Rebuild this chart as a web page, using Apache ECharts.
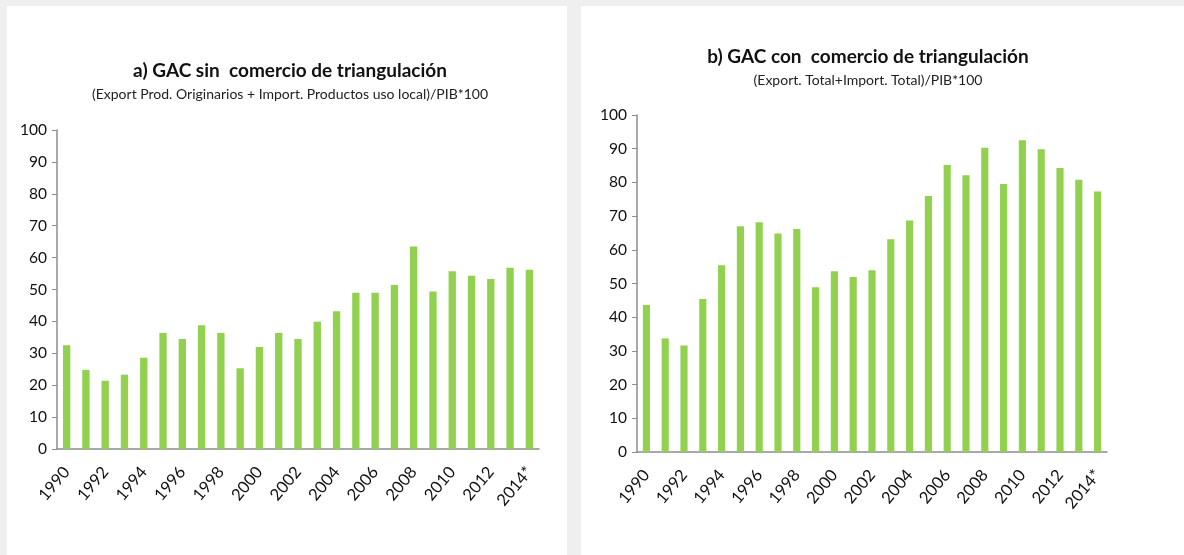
<!DOCTYPE html>
<html>
<head>
<meta charset="utf-8">
<script src="https://cdn.jsdelivr.net/npm/echarts@6/dist/echarts.min.js"></script>
<style>
  html, body { margin: 0; padding: 0; background: #efefef; width: 1184px; height: 555px; overflow: hidden; }
  .panel { position: absolute; background: #ffffff; }
  #chart_a { left: 7px; top: 6px; width: 560px; height: 549px; }
  #chart_b { left: 581px; top: 6px; width: 603px; height: 549px; }
</style>
</head>
<body>
<div id="chart_a" class="panel"></div>
<div id="chart_b" class="panel"></div>
<script>
// años
const years = ['1990', '1991', '1992', '1993', '1994', '1995', '1996', '1997', '1998', '1999',
  '2000', '2001', '2002', '2003', '2004', '2005', '2006', '2007', '2008', '2009',
  '2010', '2011', '2012', '2013', '2014*']

// a) sin comercio de triangulación
const gacSin = [32.5, 24.8, 21.4, 23.3, 28.6, 36.4, 34.5, 38.8, 36.4, 25.3,
  32.0, 36.4, 34.5, 39.9, 43.2, 49.0, 49.0, 51.4, 63.5, 49.4,
  55.7, 54.3, 53.3, 56.8, 56.2]

// b) con comercio de triangulación
const gacCon = [43.6, 33.7, 31.6, 45.4, 55.4, 67.0, 68.2, 64.8, 66.2, 48.9,
  53.6, 51.9, 53.9, 63.1, 68.7, 76.0, 85.2, 82.1, 90.3, 79.5,
  92.5, 89.8, 84.3, 80.8, 77.3]

const yTicks = { min: 0, max: 100, interval: 10 }

const FONT = 'Lato'
const GREEN = '#92d050'

function makeOption(cfg) {
  return {
    animation: false,
    textStyle: { fontFamily: FONT },
    title: [
      {
        text: cfg.title,
        left: cfg.titleX, top: cfg.titleY, textAlign: 'center',
        textStyle: { fontFamily: FONT, fontSize: 19, fontWeight: 'bold', color: '#111' }
      },
      {
        text: cfg.subtitle,
        left: cfg.titleX, top: cfg.titleY + 26, textAlign: 'center',
        textStyle: { fontFamily: FONT, fontSize: 14, fontWeight: 'normal', color: '#222' }
      }
    ],
    grid: cfg.grid,
    xAxis: {
      type: 'category',
      data: years,
      axisLine: { lineStyle: { color: '#8c8c8c', width: 1.5 } },
      axisTick: { show: false },
      axisLabel: { interval: 1, rotate: 50, fontSize: 16.5, color: '#111', margin: 20, fontFamily: FONT }
    },
    yAxis: {
      type: 'value',
      min: yTicks.min, max: yTicks.max, interval: yTicks.interval,
      axisLine: { show: true, lineStyle: { color: '#8c8c8c', width: 1.5 } },
      axisTick: { show: true, length: 5, lineStyle: { color: '#8c8c8c' } },
      splitLine: { show: false },
      axisLabel: { fontSize: 15.5, color: '#111', margin: 10, fontFamily: FONT }
    },
    series: [{
      type: 'bar',
      data: cfg.values,
      barWidth: '38%',
      itemStyle: { color: GREEN }
    }]
  }
}

const chartA = echarts.init(document.getElementById('chart_a'))
chartA.setOption(makeOption({
  title: 'a) GAC sin  comercio de triangulación',
  subtitle: '(Export Prod. Originarios + Import. Productos uso local)/PIB*100',
  titleX: 278, titleY: 50,
  grid: { left: 50, top: 124, width: 482, height: 319 },
  values: gacSin
}))

const chartB = echarts.init(document.getElementById('chart_b'))
chartB.setOption(makeOption({
  title: 'b) GAC con  comercio de triangulación',
  subtitle: '(Export. Total+Import. Total)/PIB*100',
  titleX: 282, titleY: 36,
  grid: { left: 56, top: 109, width: 470, height: 337 },
  values: gacCon
}))
</script>
</body>
</html>
